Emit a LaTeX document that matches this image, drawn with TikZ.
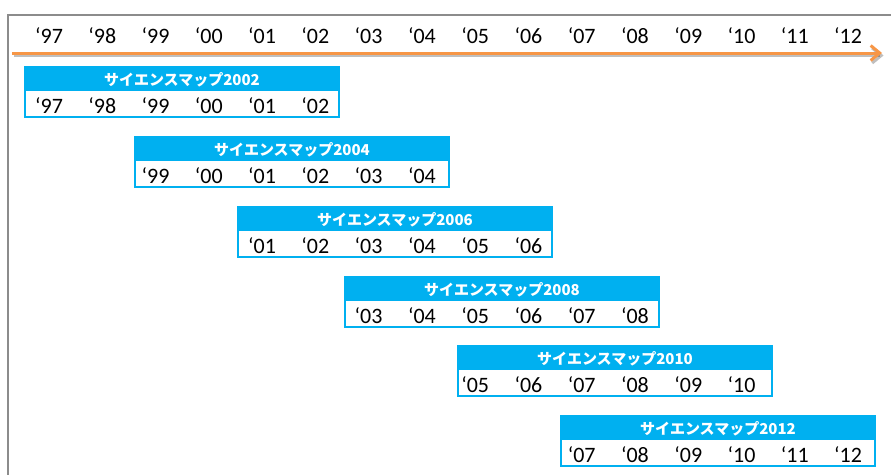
\documentclass[tikz,border=0pt]{standalone}
\usepackage{fontspec}
\setmainfont{Carlito}
\newfontfamily\cjk{Noto Sans CJK JP}
\usetikzlibrary{arrows.meta}
\definecolor{mapblue}{HTML}{00B0F0}
\definecolor{arroworange}{HTML}{F79646}
\definecolor{framegray}{HTML}{8C8C8C}
\begin{document}
\begin{tikzpicture}[x=1pt,y=-1pt,
  yearlabel/.style={font=\fontsize{22}{22}\selectfont, anchor=base, inner sep=0pt},
  headtext/.style={font=\cjk\bfseries\fontsize{15}{15}\selectfont, text=white, anchor=base, inner sep=0pt},
  headbox/.style={draw=mapblue, fill=mapblue, line width=1.5pt, minimum width=314pt, minimum height=23pt, anchor=north west, inner sep=0pt, outer sep=0pt},
  bodybox/.style={draw=mapblue, line width=2pt, fill=white, minimum width=314pt, minimum height=27pt, anchor=north west, inner sep=0pt, outer sep=0pt},
  framestyle/.style={draw=framegray, line width=2pt},
  timearrow/.style={draw=arroworange, line width=3pt, -{Straight Barb[length=9pt,width=15pt]}},
  arrowshadow/.style={draw=black, opacity=0.25, line width=3pt, -{Straight Barb[length=9pt,width=15pt]}},
]
\useasboundingbox (0,0) rectangle (891,475);
% frame
\coordinate (fr1) at (891,14.5);
\coordinate (fr2) at (7.5,14.5);
\coordinate (fr3) at (7.5,475);
\draw[framestyle] (fr1) -- (fr2) -- (fr3);
% time arrow
\coordinate (arrS) at (12,53);
\coordinate (arrE) at (882,53);
\coordinate (shS) at (13.5,55.5);
\coordinate (shE) at (883.5,55.5);
\draw[arrowshadow] (shS) -- (shE);
\draw[timearrow] (arrS) -- (arrE);
% top years
\foreach \i in {0,...,15} {
  \pgfmathtruncatemacro\yy{mod(97+\i,100)}
  \node[yearlabel] (top\i) at ({49+53.27*\i},43) {‘\ifnum\yy<10 0\fi\yy};
}
% boxes
\foreach \k/\L/\T/\yr in {0/25/67/2002, 1/135/137/2004, 2/238/207/2006, 3/345/277/2008, 4/458/346/2010, 5/561/416/2012} {
  \node[bodybox] (b\k) at (\L,{\T+23}) {};
  \node[headbox] (h\k) at (\L,\T) {};
  \node[headtext] (ht\k) at ({\L+157},{\T+18.5}) {サイエンスマップ\yr};
  \foreach \j in {0,...,5} {
    \pgfmathtruncatemacro\col{2*\k+\j}
    \pgfmathtruncatemacro\yy{mod(97+\col,100)}
    \node[yearlabel] (y\k-\j) at ({49+53.27*\col},{\T+46}) {‘\ifnum\yy<10 0\fi\yy};
  }
}
\end{tikzpicture}
\end{document}
